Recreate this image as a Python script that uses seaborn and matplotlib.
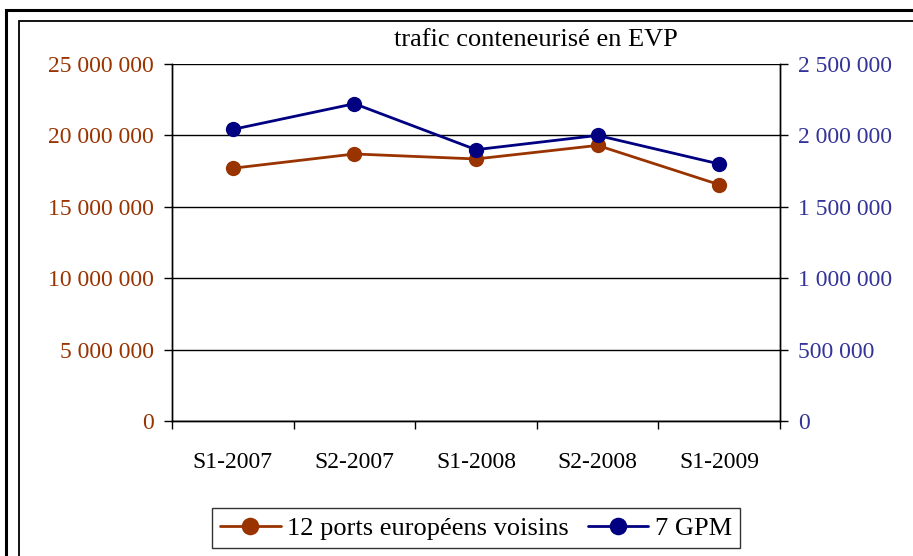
import numpy as np
import pandas as pd
import seaborn as sns
import matplotlib.pyplot as plt
from matplotlib.patches import Rectangle
from matplotlib.ticker import FuncFormatter, FixedLocator

# données
semestres = ["S1-2007", "S2-2007", "S1-2008", "S2-2008", "S1-2009"]
ports_voisins = [17_700_000, 18_700_000, 18_350_000, 19_300_000, 16_550_000]
gpm = [2_042_000, 2_222_000, 1_900_000, 2_000_000, 1_800_000]

df = pd.DataFrame({"pos": np.arange(len(semestres)),
                   "voisins": ports_voisins,
                   "gpm": gpm})

sns.set_style("white")
plt.rcParams["font.family"] = ["Liberation Serif", "DejaVu Serif"]
plt.rcParams["text.color"] = "black"
plt.rcParams["xtick.labelcolor"] = "black"

brun = "#993300"
bleu = "#000080"

fig = plt.figure(figsize=(9.13, 5.56), dpi=100)
ax = fig.add_axes([172 / 913, 1 - 421 / 556, 608 / 913, 357 / 556])
ax2 = ax.twinx()

sns.lineplot(data=df, x="pos", y="voisins", ax=ax, color=brun, lw=2,
             marker="o", markersize=11, markeredgewidth=0,
             label="12 ports européens voisins", legend=False)
sns.lineplot(data=df, x="pos", y="gpm", ax=ax2, color=bleu, lw=2,
             marker="o", markersize=11, markeredgewidth=0,
             label="7 GPM", legend=False)

ax.set_xlim(-0.5, len(semestres) - 0.5)
ax.set_ylim(0, 25_000_000)
ax2.set_ylim(0, 2_500_000)
ax.set_yticks(np.arange(0, 25_000_001, 5_000_000))
ax2.set_yticks(np.arange(0, 2_500_001, 500_000))

fmt = FuncFormatter(lambda v, p: f"{int(v):,}".replace(",", " "))
ax.yaxis.set_major_formatter(fmt)
ax2.yaxis.set_major_formatter(fmt)

ax.set_xticks(df["pos"])
ax.set_xticklabels(semestres)
ax.xaxis.set_minor_locator(FixedLocator(np.arange(-0.5, len(semestres), 1)))
ax.tick_params(axis="x", which="major", length=0, pad=22, labelsize=17,
               labelcolor="black")
ax.tick_params(axis="x", which="minor", length=6, width=1, color="black",
               direction="out", bottom=True)
ax.tick_params(axis="y", length=6, width=1, color="black", direction="out",
               left=True, pad=7, labelsize=17, labelcolor=brun)
ax2.tick_params(axis="y", length=6, width=1, color="black", direction="out",
                right=True, pad=7, labelsize=17, labelcolor="#333399")

ax.grid(axis="y", color="black", lw=1)
ax.set_axisbelow(True)
ax.set_xlabel("")
ax.set_ylabel("")
ax2.set_ylabel("")
for a in (ax, ax2):
    a.spines["top"].set_visible(False)
    for s in ("left", "right", "bottom"):
        a.spines[s].set_color("black")
        a.spines[s].set_linewidth(1)

fig.text(536 / 913, 1 - 40 / 556, "trafic conteneurisé en EVP",
         ha="center", va="center", fontsize=19, color="black")

h1, l1 = ax.get_legend_handles_labels()
h2, l2 = ax2.get_legend_handles_labels()
leg = fig.legend(h1 + h2, l1 + l2, loc="center", ncol=2,
                 bbox_to_anchor=(476 / 913, 1 - 528 / 556), fontsize=19,
                 frameon=True, fancybox=False, edgecolor="black",
                 handlelength=2.3, handletextpad=0.25, columnspacing=0.7,
                 borderpad=0.3, markerscale=1.15)
leg.get_frame().set_linewidth(1)

# double cadre autour de la figure
fig.add_artist(Rectangle((6 / 913, -0.05), 1.0, 1 - 10 / 556 + 0.05,
                         transform=fig.transFigure, fill=False,
                         edgecolor="black", lw=2.2))
fig.add_artist(Rectangle((19 / 913, -0.05), 1.0, 1 - 21 / 556 + 0.05,
                         transform=fig.transFigure, fill=False,
                         edgecolor="black", lw=1.3))

fig.savefig("out.png", dpi=100)
